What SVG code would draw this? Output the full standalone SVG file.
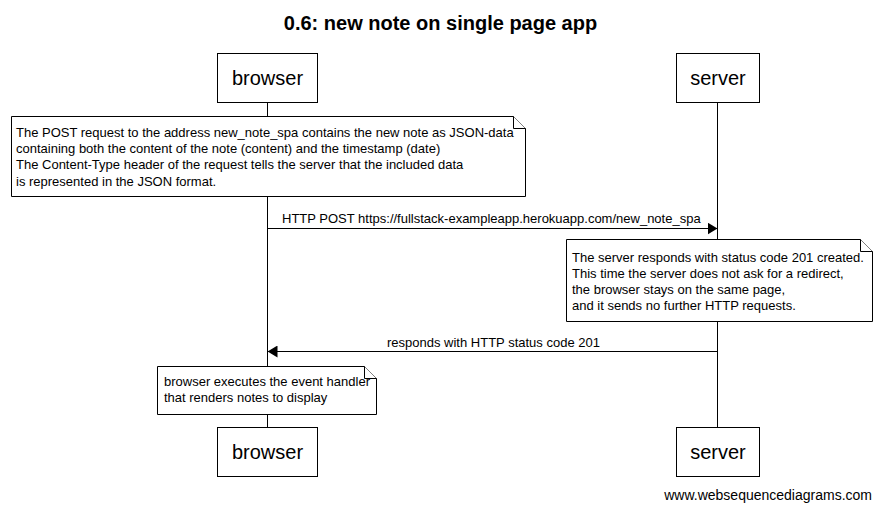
<svg xmlns="http://www.w3.org/2000/svg" width="881" height="511" viewBox="0 0 881 511">
  <style>
    text { font-family: "Liberation Sans", Arial, sans-serif; fill: #000; }
    .title { font-size: 20px; font-weight: bold; }
    .actor rect { fill: #fff; stroke: #000; stroke-width: 1; }
    .actor text { font-size: 20px; text-anchor: middle; }
    .note path { fill: #fff; stroke: #000; stroke-width: 1; }
    .note text, .msg text { font-size: 13px; }
    .life { stroke: #000; stroke-width: 1; }
    .msg line { stroke: #000; stroke-width: 1; }
    .footer { font-size: 14px; text-anchor: end; }
  </style>
  <defs>
    <marker id="head" viewBox="0 0 10 12" refX="10" refY="6" markerWidth="10" markerHeight="12" markerUnits="userSpaceOnUse" orient="auto">
      <path d="M0,0 L10,6 L0,12 Z" fill="#000"/>
    </marker>
  </defs>

  <rect width="881" height="511" fill="#fff"/>
  <text class="title" x="440.5" y="30" text-anchor="middle">0.6: new note on single page app</text>

  <!-- lifelines -->
  <g id="lifelines">
    <line class="life" x1="267.5" y1="102" x2="267.5" y2="427"/>
    <line class="life" x1="717.5" y1="102" x2="717.5" y2="427"/>
  </g>

  <!-- participants -->
  <g id="browser-top" class="actor">
    <rect x="217.5" y="53.5" width="100" height="49"/>
    <text x="267.5" y="85">browser</text>
  </g>
  <g id="server-top" class="actor">
    <rect x="676.5" y="53.5" width="83" height="49"/>
    <text x="718" y="85">server</text>
  </g>
  <g id="browser-bottom" class="actor">
    <rect x="217.5" y="427.5" width="100" height="49"/>
    <text x="267.5" y="459">browser</text>
  </g>
  <g id="server-bottom" class="actor">
    <rect x="676.5" y="427.5" width="83" height="49"/>
    <text x="718" y="459">server</text>
  </g>

  <!-- notes -->
  <g id="note-post" class="note">
    <path d="M11.5,116.5 H513.5 L525.5,128.5 V196.5 H11.5 Z"/>
    <path d="M513.5,116.5 V128.5 H525.5" fill="none"/>
    <text x="16" y="137">The POST request to the address new_note_spa contains the new note as JSON-data</text>
    <text x="16" y="153">containing both the content of the note (content) and the timestamp (date)</text>
    <text x="16" y="169">The Content-Type header of the request tells the server that the included data</text>
    <text x="16" y="186">is represented in the JSON format.</text>
  </g>
  <g id="note-server" class="note">
    <path d="M566.5,239.5 H860.5 L872.5,251.5 V321.5 H566.5 Z"/>
    <path d="M860.5,239.5 V251.5 H872.5" fill="none"/>
    <text x="572" y="262">The server responds with status code 201 created.</text>
    <text x="572" y="278">This time the server does not ask for a redirect,</text>
    <text x="572" y="294">the browser stays on the same page,</text>
    <text x="572" y="310">and it sends no further HTTP requests.</text>
  </g>
  <g id="note-browser" class="note">
    <path d="M157.5,366.5 H364.5 L376.5,378.5 V414.5 H157.5 Z"/>
    <path d="M364.5,366.5 V378.5 H376.5" fill="none"/>
    <text x="164" y="386">browser executes the event handler</text>
    <text x="164" y="402">that renders notes to display</text>
  </g>

  <!-- messages -->
  <g id="connectors" class="msg">
    <line x1="267.5" y1="228.5" x2="717.5" y2="228.5" marker-end="url(#head)"/>
    <text x="282" y="223">HTTP POST https://fullstack-exampleapp.herokuapp.com/new_note_spa</text>
    <line x1="717.5" y1="351.5" x2="267.5" y2="351.5" marker-end="url(#head)"/>
    <text x="387" y="347">responds with HTTP status code 201</text>
  </g>

  <text class="footer" x="872" y="500">www.websequencediagrams.com</text>
</svg>
